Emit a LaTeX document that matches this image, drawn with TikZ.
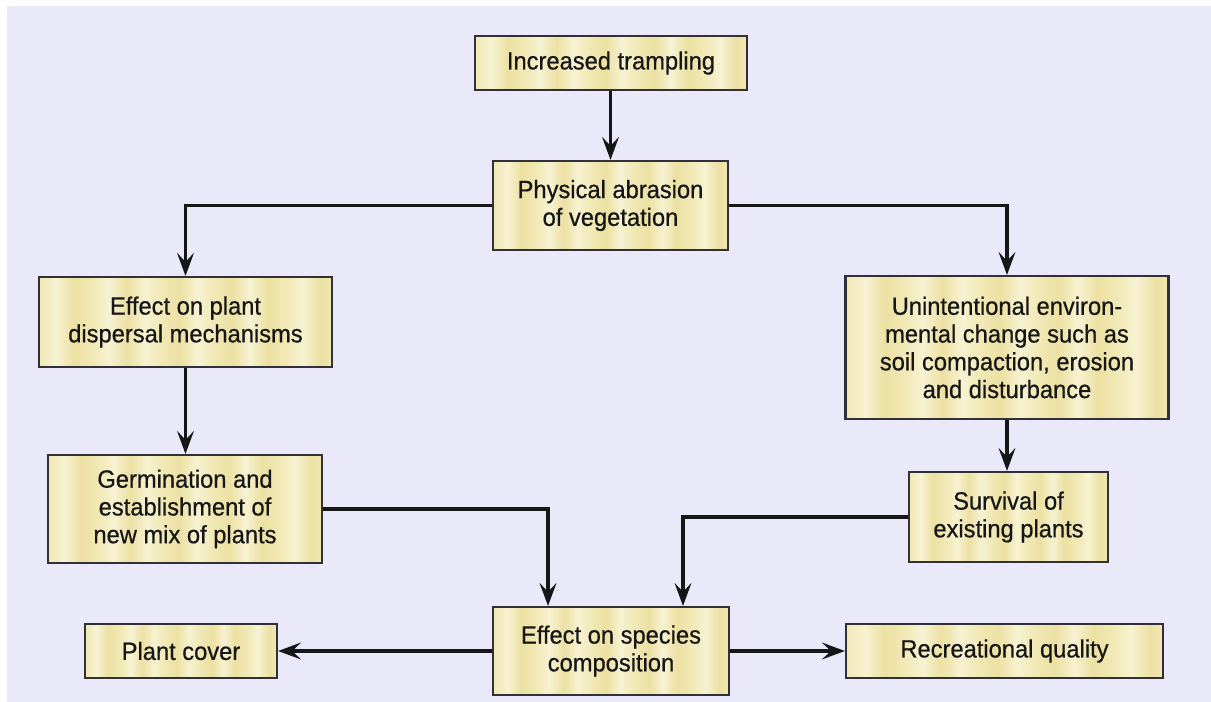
\documentclass[tikz,border=0pt]{standalone}
\usepackage{fontspec}
\setmainfont[FakeStretch=0.95,FakeBold=0.6]{Liberation Sans}
\usetikzlibrary{arrows.meta}
\definecolor{bg}{HTML}{E9E9FA}
\definecolor{boxA}{HTML}{ECE0A2}
\definecolor{boxB}{HTML}{F7F2D2}
\definecolor{boxC}{HTML}{F1E8B4}
\definecolor{ink}{HTML}{161616}
\definecolor{edge}{HTML}{303036}
\pgfdeclarehorizontalshading{streaks}{100bp}{color(0bp)=(boxC); color(25bp)=(boxC);
 color(28bp)=(boxB); color(31bp)=(boxA); color(34bp)=(boxC); color(37bp)=(boxB);
 color(40bp)=(boxA); color(43bp)=(boxB); color(46bp)=(boxC); color(49bp)=(boxA);
 color(52bp)=(boxB); color(55bp)=(boxC); color(58bp)=(boxA); color(61bp)=(boxB);
 color(64bp)=(boxA); color(67bp)=(boxC); color(70bp)=(boxB); color(73bp)=(boxA);
 color(75bp)=(boxC); color(100bp)=(boxC)}
\begin{document}
\begin{tikzpicture}[x=0.02cm,y=-0.02cm,
  box/.style={draw=edge, line width=1.2pt, shading=streaks, align=center,
    inner sep=0pt, text=ink, font=\fontsize{14.2pt}{15.8pt}\selectfont},
  conn/.style={line width=2pt, draw=ink,
    -{Stealth[length=13pt,width=9.5pt,inset=5pt]}}]
\useasboundingbox (0,0) rectangle (1211,702);
\fill[white] (-5,-5) rectangle (1220,710);
\fill[bg] (7,6) rectangle (1220,710);

\node[box, minimum width=5.44cm, minimum height=1.08cm] (tramp) at (611,63) {Increased trampling};
\node[box, minimum width=4.70cm, minimum height=1.78cm] (abr) at (610.5,205.5) {Physical abrasion\\of vegetation};
\node[box, minimum width=5.86cm, minimum height=1.80cm] (disp) at (185.5,322) {Effect on plant\\dispersal mechanisms};
\node[box, minimum width=6.46cm, minimum height=2.86cm] (unint) at (1007,347.5) {Unintentional environ-\\mental change such as\\soil compaction, erosion\\and disturbance};
\node[box, minimum width=5.48cm, minimum height=2.16cm] (germ) at (185,509) {Germination and\\establishment of\\new mix of plants};
\node[box, minimum width=3.98cm, minimum height=1.80cm] (surv) at (1008.5,517) {Survival of\\existing plants};
\node[box, minimum width=4.72cm, minimum height=1.76cm] (spec) at (611,651) {Effect on species\\composition};
\node[box, minimum width=3.84cm, minimum height=1.08cm] (cover) at (181,651) {Plant cover};
\node[box, minimum width=6.34cm, minimum height=1.08cm] (recr) at (1004.5,651) {Recreational quality};

\draw[conn] (abr.north |- tramp.south) -- (abr.north);
\draw[conn] (abr.west) -| (disp.north);
\draw[conn] (abr.east) -| (unint.north);
\draw[conn] (disp.south) -- (germ.north -| disp.south);
\draw[conn] (unint.south) -- (surv.north -| unint.south);
\draw[conn] (germ.east) -| ([xshift=-1.26cm]spec.north);
\draw[conn] (surv.west) -| ([xshift=1.44cm]spec.north);
\draw[conn] (spec.west) -- (cover.east);
\draw[conn] (spec.east) -- (recr.west);
\end{tikzpicture}
\end{document}
